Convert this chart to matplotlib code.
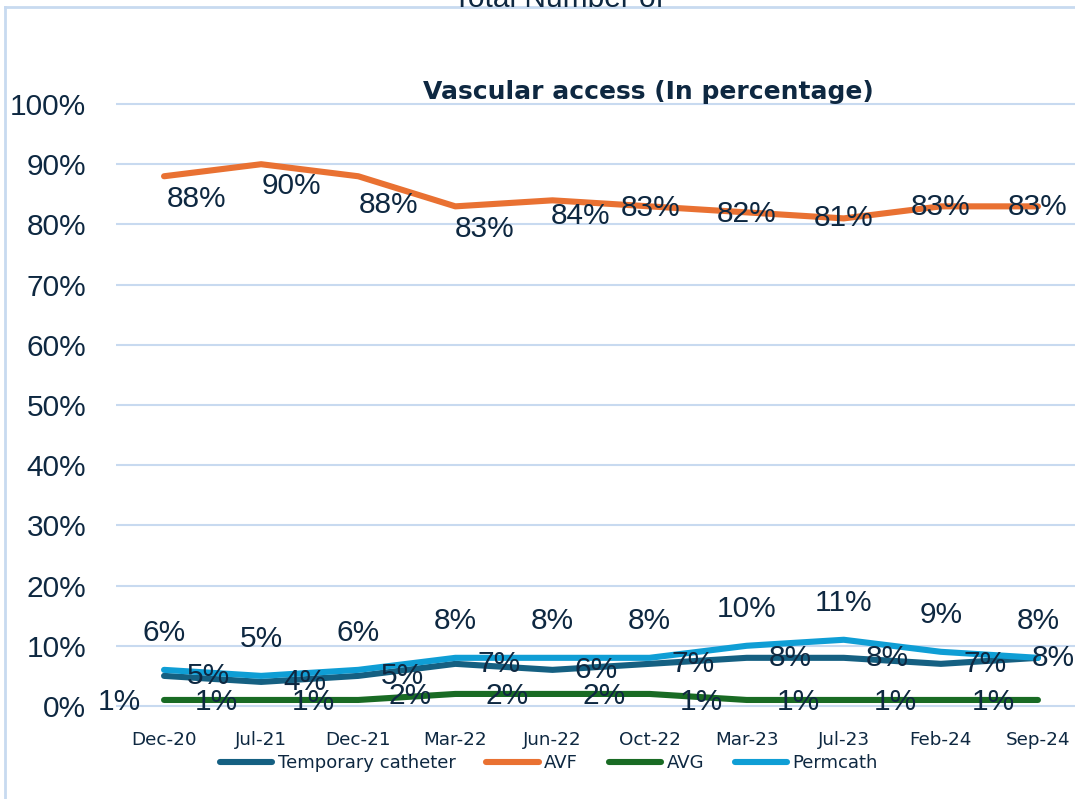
import numpy as np
import matplotlib
matplotlib.use("Agg")
import matplotlib.pyplot as plt
from matplotlib.lines import Line2D
from matplotlib.ticker import FuncFormatter

# ─── DATA ─────────────────────────────────────────────────────────────
months = ["Dec-20", "Jul-21", "Dec-21", "Mar-22", "Jun-22",
          "Oct-22", "Mar-23", "Jul-23", "Feb-24", "Sep-24"]
temp_catheter = [5, 4, 5, 7, 6, 7, 8, 8, 7, 8]
avf = [88, 90, 88, 83, 84, 83, 82, 81, 83, 83]
avg = [1, 1, 1, 2, 2, 2, 1, 1, 1, 1]
permcath = [6, 5, 6, 8, 8, 8, 10, 11, 9, 8]

# ─── STYLE ────────────────────────────────────────────────────────────
TXT = "#0e2841"
GRID = "#c8daf0"
C_TEMP = "#156082"
C_AVF = "#e97132"
C_AVG = "#196b24"
C_PERM = "#0f9ed5"
NUM_FONT = "Liberation Sans"
NUM_SIZE = 21.5
PX = 0.72  # pixels -> points at dpi 100

# label offsets in pixels (dx, dy up-positive)
avf_offsets = [(33, -23), (30, -22), (30, -29), (29, -23), (28, -16),
               (1, -2), (0, -2), (0, 0), (0, -1), (0, -1)]

fig = plt.figure(figsize=(10.75, 7.99), dpi=100)
ax = fig.add_axes([115.5 / 1075, 87 / 799, 971 / 1075, 614 / 799])

x = np.arange(len(months))
lw = 4.4
series = [
    ("Temporary catheter", temp_catheter, C_TEMP),
    ("AVF", avf, C_AVF),
    ("AVG", avg, C_AVG),
    ("Permcath", permcath, C_PERM),
]
for name, vals, col in series:
    ax.plot(x, vals, color=col, lw=lw, solid_capstyle="round",
            solid_joinstyle="round", label=name, zorder=3)

def put_label(i, v, dx, dy):
    ax.annotate(f"{v:.0f}%", (x[i], v), xytext=(dx * PX, dy * PX),
                textcoords="offset points", ha="center", va="center",
                fontsize=NUM_SIZE, family=NUM_FONT, color=TXT, zorder=6,
                annotation_clip=False)

for i, v in enumerate(permcath):
    put_label(i, v, 0, 37)
for i, v in enumerate(temp_catheter):
    # last label is pushed back inside the chart edge
    dx = 44 if i < len(temp_catheter) - 1 else 15
    put_label(i, v, dx, 0)
for i, v in enumerate(avg):
    put_label(i, v, -45, -2)
for i, v in enumerate(avf):
    dx, dy = avf_offsets[i]
    put_label(i, v, dx, dy)

# axes
ax.set_xlim(-0.5, len(months) - 0.5)
ax.set_ylim(-1, 101)
ax.set_yticks(np.arange(0, 101, 10))
ax.yaxis.set_major_formatter(FuncFormatter(lambda v, p: f"{v:.0f}%"))
ax.set_xticks(x)
ax.set_xticklabels(months)
ax.grid(axis="y", color=GRID, lw=1.5, zorder=0)
ax.set_axisbelow(True)
for s in ax.spines.values():
    s.set_visible(False)
ax.tick_params(axis="y", length=0, pad=21, labelsize=NUM_SIZE, labelcolor=TXT)
ax.tick_params(axis="x", length=0, pad=14, labelsize=13.2, labelcolor=TXT)
for t in ax.get_yticklabels():
    t.set_family(NUM_FONT)

# titles
fig.text(648 / 1075, 1 - 92 / 799, "Vascular access (In percentage)",
         ha="center", va="center", fontsize=18, fontweight="bold", color=TXT)
fig.text(558 / 1075, 1 - 7 / 799, "Total Number of", ha="center",
         va="baseline", fontsize=NUM_SIZE, family=NUM_FONT, color=TXT)

# chart border (partly outside the picture)
fig.add_artist(Line2D([5 / 1075, 5 / 1075], [0, 1 - 7 / 799],
                      transform=fig.transFigure, color=GRID, lw=2))
fig.add_artist(Line2D([5 / 1075, 1], [1 - 7 / 799, 1 - 7 / 799],
                      transform=fig.transFigure, color=GRID, lw=2))

leg = fig.legend(loc="center", bbox_to_anchor=(549 / 1075, 1 - 763 / 799),
                 ncol=4, frameon=False, fontsize=13, handlelength=2.9,
                 handletextpad=0.3, columnspacing=1.7)
for t in leg.get_texts():
    t.set_color(TXT)
for h in leg.get_lines():
    h.set_linewidth(lw)
    h.set_solid_capstyle("round")

fig.savefig("out.png", dpi=100)
